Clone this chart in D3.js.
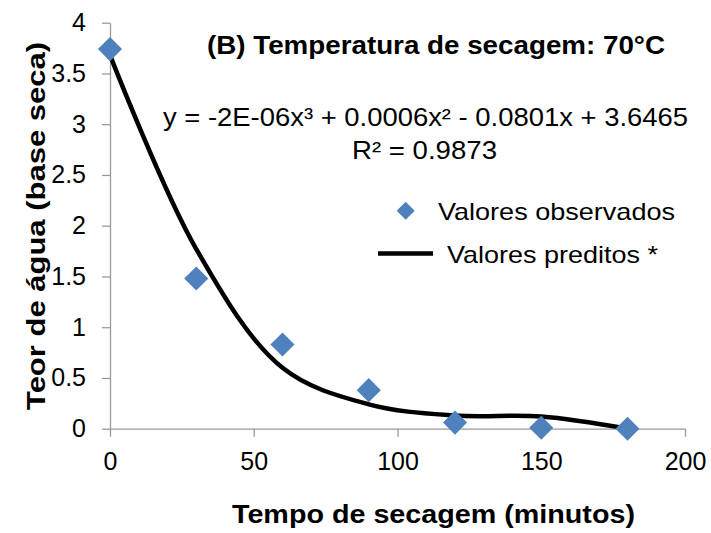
<!DOCTYPE html>
<html>
<head>
<meta charset="utf-8">
<script src="https://cdn.jsdelivr.net/npm/d3@7"></script>
<style>
  body { margin: 0; background: #fff; }
  text { font-family: Arial, "Liberation Sans", sans-serif; fill: #000; }
</style>
</head>
<body>
<div id="chart"></div>
<script>
// data
var tempo = [0, 30, 60, 90, 120, 150, 180];
var observados = [3.74, 1.48, 0.83, 0.38, 0.06, 0.01, 0.0];
var preditos = [3.68, 1.77, 0.60, 0.24, 0.13, 0.12, 0.0];
var xTicks = [0, 50, 100, 150, 200];
var yTicks = [0, 0.5, 1, 1.5, 2, 2.5, 3, 3.5, 4];

var svgWidth = 711, svgHeight = 533;

var svg = d3.select("#chart")
  .append("svg")
  .attr("width", svgWidth)
  .attr("height", svgHeight);

// scales
var xScale = d3.scaleLinear().domain([0, 200]).range([110, 685]);
var yScale = d3.scaleLinear().domain([0, 4]).range([428.7, 22.7]);

// axes
var bottomAxis = d3.axisBottom(xScale)
  .tickValues(xTicks)
  .tickSize(8)
  .tickSizeOuter(0)
  .tickPadding(16)
  .tickFormat(d3.format("d"));

var leftAxis = d3.axisLeft(yScale)
  .tickValues(yTicks)
  .tickSize(8)
  .tickSizeOuter(0)
  .tickPadding(16)
  .tickFormat(d => d);

var xAxisG = svg.append("g")
  .attr("transform", `translate(0, ${yScale(0)})`)
  .call(bottomAxis);

var yAxisG = svg.append("g")
  .attr("transform", `translate(${xScale(0)}, 0)`)
  .call(leftAxis);

[xAxisG, yAxisG].forEach(g => {
  g.select(".domain").attr("stroke", "#9a9a9a").attr("stroke-width", 1.3);
  g.selectAll(".tick line").attr("stroke", "#9a9a9a").attr("stroke-width", 1.3);
  g.selectAll(".tick text")
    .attr("font-size", 25)
    .attr("font-family", "Arial, 'Liberation Sans', sans-serif")
    .attr("fill", "#000");
});

// predicted curve (smoothed line)
var line = d3.line()
  .x((d, i) => xScale(tempo[i]))
  .y(d => yScale(d))
  .curve(d3.curveCatmullRom.alpha(0.5));

svg.append("path")
  .datum(preditos)
  .attr("d", line)
  .attr("fill", "none")
  .attr("stroke", "#000")
  .attr("stroke-width", 4.5);

// observed points
var diamond = d3.symbol().type(d3.symbolSquare).size(290);

svg.selectAll(".obs")
  .data(observados)
  .enter()
  .append("path")
  .attr("class", "obs")
  .attr("d", diamond)
  .attr("transform", (d, i) => `translate(${xScale(tempo[i])}, ${yScale(d)}) rotate(45)`)
  .attr("fill", "#4f81bd");

// title and equation
svg.append("text")
  .attr("x", 207).attr("y", 54)
  .attr("font-size", 25).attr("font-weight", "bold")
  .attr("textLength", 458).attr("lengthAdjust", "spacingAndGlyphs")
  .text("(B) Temperatura de secagem: 70°C");

svg.append("text")
  .attr("x", 163).attr("y", 126)
  .attr("font-size", 25)
  .attr("textLength", 525).attr("lengthAdjust", "spacingAndGlyphs")
  .text("y = -2E-06x³ + 0.0006x² - 0.0801x + 3.6465");

svg.append("text")
  .attr("x", 352).attr("y", 159)
  .attr("font-size", 25)
  .attr("textLength", 145).attr("lengthAdjust", "spacingAndGlyphs")
  .text("R² = 0.9873");

// legend
svg.append("path")
  .attr("d", d3.symbol().type(d3.symbolSquare).size(162))
  .attr("transform", "translate(405.7, 210.7) rotate(45)")
  .attr("fill", "#4f81bd");

svg.append("text")
  .attr("x", 438).attr("y", 220)
  .attr("font-size", 24)
  .attr("textLength", 237).attr("lengthAdjust", "spacingAndGlyphs")
  .text("Valores observados");

svg.append("line")
  .attr("x1", 378).attr("x2", 433)
  .attr("y1", 253.5).attr("y2", 253.5)
  .attr("stroke", "#000")
  .attr("stroke-width", 4.5);

svg.append("text")
  .attr("x", 447).attr("y", 263)
  .attr("font-size", 24)
  .attr("textLength", 211).attr("lengthAdjust", "spacingAndGlyphs")
  .text("Valores preditos *");

// axis titles
svg.append("text")
  .attr("x", 232).attr("y", 523)
  .attr("font-size", 25).attr("font-weight", "bold")
  .attr("textLength", 403).attr("lengthAdjust", "spacingAndGlyphs")
  .text("Tempo de secagem (minutos)");

svg.append("text")
  .attr("transform", `translate(45, 410) rotate(-90)`)
  .attr("font-size", 26).attr("font-weight", "bold")
  .attr("textLength", 368).attr("lengthAdjust", "spacingAndGlyphs")
  .text("Teor de água (base seca)");
</script>
</body>
</html>
